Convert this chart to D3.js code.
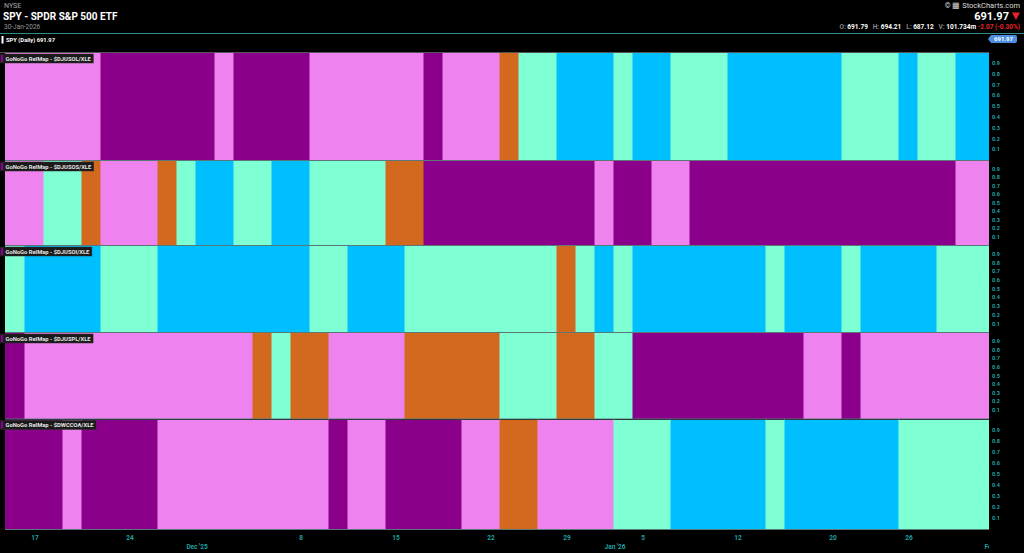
<!DOCTYPE html>
<html>
<head>
<meta charset="utf-8">
<script src="https://cdn.jsdelivr.net/npm/d3@7"></script>
<style>
  html, body { margin: 0; padding: 0; background: #000; }
  svg { display: block; font-family: Roboto, 'Open Sans', sans-serif; }
</style>
</head>
<body>
<svg id="chart" width="1024" height="553"></svg>
<script>
// Trading sessions on the chart (one bar each)
const tradingDays = [
  '2025-11-14',
  '2025-11-17', '2025-11-18', '2025-11-19', '2025-11-20', '2025-11-21',
  '2025-11-24', '2025-11-25', '2025-11-26', '2025-11-28',
  '2025-12-01', '2025-12-02', '2025-12-03', '2025-12-04', '2025-12-05',
  '2025-12-08', '2025-12-09', '2025-12-10', '2025-12-11', '2025-12-12',
  '2025-12-15', '2025-12-16', '2025-12-17', '2025-12-18', '2025-12-19',
  '2025-12-22', '2025-12-23', '2025-12-24', '2025-12-26',
  '2025-12-29', '2025-12-30', '2025-12-31', '2026-01-02',
  '2026-01-05', '2026-01-06', '2026-01-07', '2026-01-08', '2026-01-09',
  '2026-01-12', '2026-01-13', '2026-01-14', '2026-01-15', '2026-01-16',
  '2026-01-20', '2026-01-21', '2026-01-22', '2026-01-23',
  '2026-01-26', '2026-01-27', '2026-01-28', '2026-01-29', '2026-01-30',
];

// GoNoGo state per session: B strong go, A weak go, O amber, P weak nogo, M strong nogo
const relDJUSOL = [
  'P',
  'P', 'P', 'P', 'P', 'M',
  'M', 'M', 'M', 'M',
  'M', 'P', 'M', 'M', 'M',
  'M', 'P', 'P', 'P', 'P',
  'P', 'P', 'M', 'P', 'P',
  'P', 'O', 'A', 'A',
  'B', 'B', 'B', 'A',
  'B', 'B', 'A', 'A', 'A',
  'B', 'B', 'B', 'B', 'B',
  'B', 'A', 'A', 'A',
  'B', 'A', 'A', 'B', 'B',
];
const relDJUSOS = [
  'P',
  'P', 'A', 'A', 'O', 'P',
  'P', 'P', 'O', 'A',
  'B', 'B', 'A', 'A', 'B',
  'B', 'A', 'A', 'A', 'A',
  'O', 'O', 'M', 'M', 'M',
  'M', 'M', 'M', 'M',
  'M', 'M', 'P', 'M',
  'M', 'P', 'P', 'M', 'M',
  'M', 'M', 'M', 'M', 'M',
  'M', 'M', 'M', 'M',
  'M', 'M', 'M', 'P', 'P',
];
const relDJUSOI = [
  'A',
  'B', 'B', 'B', 'B', 'A',
  'A', 'A', 'B', 'B',
  'B', 'B', 'B', 'B', 'B',
  'B', 'A', 'A', 'B', 'B',
  'B', 'A', 'A', 'A', 'A',
  'A', 'A', 'A', 'A',
  'O', 'A', 'B', 'A',
  'B', 'B', 'B', 'B', 'B',
  'B', 'B', 'A', 'B', 'B',
  'B', 'A', 'B', 'B',
  'B', 'B', 'A', 'A', 'A',
];
const relDJUSPL = [
  'M',
  'P', 'P', 'P', 'P', 'P',
  'P', 'P', 'P', 'P',
  'P', 'P', 'P', 'O', 'A',
  'O', 'O', 'P', 'P', 'P',
  'P', 'O', 'O', 'O', 'O',
  'O', 'A', 'A', 'A',
  'O', 'O', 'A', 'A',
  'M', 'M', 'M', 'M', 'M',
  'M', 'M', 'M', 'M', 'P',
  'P', 'M', 'P', 'P',
  'P', 'P', 'P', 'P', 'P',
];
const relDWCCOA = [
  'M',
  'M', 'M', 'P', 'M', 'M',
  'M', 'M', 'P', 'P',
  'P', 'P', 'P', 'P', 'P',
  'P', 'P', 'M', 'P', 'P',
  'M', 'M', 'M', 'M', 'P',
  'P', 'O', 'O', 'P',
  'P', 'P', 'P', 'A',
  'A', 'A', 'B', 'B', 'B',
  'B', 'B', 'A', 'B', 'B',
  'B', 'B', 'B', 'B',
  'A', 'A', 'A', 'A', 'A',
];

const panelSymbols = ['$DJUSOL/XLE', '$DJUSOS/XLE', '$DJUSOI/XLE', '$DJUSPL/XLE', '$DWCCOA/XLE'];
const panelSeries = [relDJUSOL, relDJUSOS, relDJUSOI, relDJUSPL, relDWCCOA];
const yTicks = [0.1, 0.2, 0.3, 0.4, 0.5, 0.6, 0.7, 0.8, 0.9];

const dayTicks = ['2025-11-17', '2025-11-24', '2025-12-08', '2025-12-15', '2025-12-22',
  '2025-12-29', '2026-01-05', '2026-01-12', '2026-01-20', '2026-01-26'];
const monthTicks = [
  { date: '2025-12-01', label: "Dec '25" },
  { date: '2026-01-02', label: "Jan '26" },
  { date: '2026-02-02', label: "Feb '26" },
];

// Layout
const plotLeft = 5;
const plotRight = 989;
const barStep = 19;
const panelTops = [53, 161, 246, 333, 419.5];
const panelBottoms = [160, 245, 332, 418.5, 529];
const axisColour = '#1fa3a3';

const stateColour = d3.scaleOrdinal()
  .domain(['B', 'A', 'O', 'P', 'M'])
  .range(['#00bfff', '#7fffd4', '#d2691e', '#ee82ee', '#8b008b']);

const svg = d3.select('#chart');

svg.append('rect').attr('width', 1024).attr('height', 553).attr('fill', '#000');

svg.append('defs')
  .append('clipPath')
  .attr('id', 'plotClip')
  .append('rect')
  .attr('x', 0)
  .attr('y', 0)
  .attr('width', plotRight)
  .attr('height', 553);

// session index scale; month ticks may sit one past the last session
const x = d3.scaleLinear()
  .domain([0, tradingDays.length])
  .range([plotLeft, plotLeft + barStep * tradingDays.length]);
const indexOf = d => {
  const i = tradingDays.indexOf(d);
  return i >= 0 ? i : tradingDays.length;
};

// ---- header ----
svg.append('text').attr('x', 4).attr('y', 8)
  .attr('font-size', 7).attr('fill', '#aaa').text('NYSE');
svg.append('text').attr('x', 3).attr('y', 19.5)
  .attr('font-size', 10).attr('font-weight', 'bold').attr('fill', '#fff')
  .text('SPY - SPDR S&P 500 ETF');
svg.append('text').attr('x', 4).attr('y', 28.5)
  .attr('font-size', 6.5).attr('fill', '#999').text('30-Jan-2026');

svg.append('text').attr('x', 1020).attr('y', 8)
  .attr('text-anchor', 'end').attr('font-size', 7.5).attr('fill', '#ddd')
  .text('© ▦ StockCharts.com');
svg.append('text').attr('x', 1009).attr('y', 19.5)
  .attr('text-anchor', 'end').attr('font-size', 11).attr('font-weight', 'bold')
  .attr('fill', '#fff').text('691.97');
svg.append('path')
  .attr('d', 'M1012,12.5 L1020,12.5 L1016,20 Z')
  .attr('fill', '#e8232a');

const quote = svg.append('text').attr('x', 1020).attr('y', 28.5)
  .attr('text-anchor', 'end').attr('font-size', 6.5).attr('font-weight', 'bold');
[['O: ', '#888'], ['691.79', '#fff'], ['   H: ', '#888'], ['694.21', '#fff'],
  ['   L: ', '#888'], ['687.12', '#fff'], ['   V: ', '#888'], ['101.734m', '#fff'],
  [' -2.07 (-0.30%)', '#e8232a']].forEach(([t, c]) => {
  quote.append('tspan').attr('fill', c).attr('xml:space', 'preserve').text(t);
});

svg.append('line')
  .attr('x1', 0).attr('x2', 1024).attr('y1', 33.5).attr('y2', 33.5)
  .attr('stroke', '#2e8b8b').attr('stroke-width', 1);

// price panel label
svg.append('rect').attr('x', 1.5).attr('y', 36).attr('width', 2).attr('height', 7.5).attr('fill', '#fff');
svg.append('text').attr('x', 6).attr('y', 42.2)
  .attr('font-size', 5.8).attr('font-weight', 'bold').attr('fill', '#fff')
  .text('SPY (Daily) 691.97');

// price tag
svg.append('path')
  .attr('d', 'M988,39 L991,35 L1015,35 Q1017,35 1017,37 L1017,41 Q1017,43 1015,43 L991,43 Z')
  .attr('fill', '#4d8fe0');
svg.append('text').attr('x', 1003.5).attr('y', 41.2)
  .attr('text-anchor', 'middle').attr('font-size', 6).attr('font-weight', 'bold')
  .attr('fill', '#fff').text('691.97');

svg.append('line')
  .attr('x1', 0).attr('x2', plotRight).attr('y1', 52.5).attr('y2', 52.5)
  .attr('stroke', '#555').attr('stroke-width', 1);

// ---- RelMap panels ----
const plot = svg.append('g').attr('clip-path', 'url(#plotClip)');

panelSeries.forEach((series, p) => {
  const top = panelTops[p];
  const bottom = panelBottoms[p];
  const y = d3.scaleLinear().domain([0, 1]).range([bottom, top - 1]);

  plot.append('g')
    .selectAll('rect')
    .data(series)
    .enter()
    .append('rect')
    .attr('x', (d, i) => x(i))
    .attr('y', y(1) + 1)
    .attr('width', x(1) - x(0) + 0.4)
    .attr('height', y(0) - y(1) - 1)
    .attr('fill', d => stateColour(d))
    .attr('shape-rendering', 'crispEdges');

  // faint edges where the state changes
  plot.append('g')
    .selectAll('line')
    .data(series.map((d, i) => i).filter(i => i > 0 && series[i] !== series[i - 1]))
    .enter()
    .append('line')
    .attr('x1', i => x(i) + 0.5)
    .attr('x2', i => x(i) + 0.5)
    .attr('y1', top)
    .attr('y2', bottom)
    .attr('stroke', i => d3.interpolateRgb(stateColour(series[i - 1]), stateColour(series[i]))(0.5))
    .attr('stroke-width', 1);

  // separator under each panel
  svg.append('line')
    .attr('x1', plotLeft).attr('x2', plotRight)
    .attr('y1', bottom + 0.5).attr('y2', bottom + 0.5)
    .attr('stroke', '#5a7878').attr('stroke-width', 1);

  const yAxis = d3.axisRight(y)
    .tickValues(yTicks)
    .tickSize(0)
    .tickPadding(0)
    .tickFormat(d3.format('.1f'));

  const ya = svg.append('g')
    .attr('transform', `translate(992, 0)`)
    .call(yAxis);
  ya.select('.domain').remove();
  ya.selectAll('text')
    .attr('fill', axisColour)
    .attr('font-size', 5.5)
    .attr('font-weight', 'bold')
    .attr('font-family', 'Roboto, sans-serif');

  // panel title box
  const lab = svg.append('g').attr('transform', `translate(0, ${top + 1})`);
  const box = lab.append('rect')
    .attr('x', 0).attr('y', 0).attr('height', 9)
    .attr('fill', '#1a1a1a').attr('stroke', '#333').attr('stroke-width', 0.5);
  lab.append('rect')
    .attr('x', 1).attr('y', 1).attr('width', 2.2).attr('height', 7)
    .attr('fill', '#8b008b');
  const t = lab.append('text')
    .attr('x', 5.5).attr('y', 6.6)
    .attr('font-size', 5.8).attr('font-weight', 'bold').attr('fill', '#e6e6e6')
    .text(`GoNoGo RelMap - ${panelSymbols[p]}`);
  box.attr('width', t.node().getComputedTextLength() + 8);
});

// ---- date axis ----
const dayAxis = d3.axisBottom(x)
  .tickValues(dayTicks.map(d => indexOf(d) + 0.5))
  .tickSize(0)
  .tickPadding(0)
  .tickFormat(v => +tradingDays[Math.floor(v)].slice(8));

const dx = plot.append('g')
  .attr('transform', `translate(1, 535.5)`)
  .call(dayAxis);
dx.select('.domain').remove();
dx.selectAll('text')
  .attr('fill', axisColour)
  .attr('font-size', 6.5)
  .attr('font-weight', 'bold')
  .attr('font-family', 'Roboto, sans-serif');

const monthAxis = d3.axisBottom(x)
  .tickValues(monthTicks.map(m => indexOf(m.date)))
  .tickSize(0)
  .tickPadding(0)
  .tickFormat((v, i) => monthTicks[i].label);

const mx = plot.append('g')
  .attr('transform', `translate(1.5, 544.5)`)
  .call(monthAxis);
mx.select('.domain').remove();
mx.selectAll('text')
  .attr('fill', axisColour)
  .attr('font-size', 6.5)
  .attr('font-weight', 'bold')
  .attr('font-family', 'Roboto, sans-serif');
</script>
</body>
</html>
